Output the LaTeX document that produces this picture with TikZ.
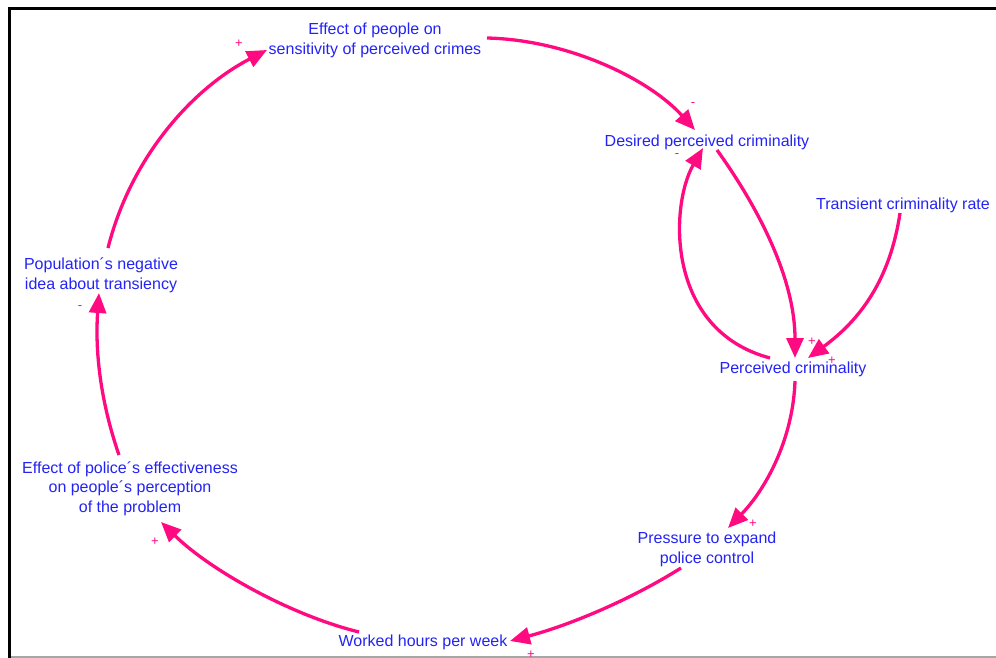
\documentclass[tikz,border=0pt]{standalone}
\usepackage{fontspec}
\setmainfont{Liberation Sans}
\usetikzlibrary{calc,arrows.meta}

\definecolor{linkpink}{RGB}{255,10,128}
\definecolor{varblue}{RGB}{35,35,245}

\tikzset{
  var/.style={inner sep=0pt, align=center, text=varblue,
    font=\fontsize{16}{19.5}\selectfont},
  link/.style={draw=linkpink, line width=3.3pt,
    -{Triangle[length=20pt,width=17pt]}},
  sign/.style={inner sep=0pt, text=linkpink,
    font=\fontsize{13}{14}\selectfont}
}

\begin{document}
\begin{tikzpicture}[x=1pt,y=-1pt]
\useasboundingbox (0,0) rectangle (996,658);

% frame
\draw[gray!70, line width=1.2pt] (9.5,657) -- (996,657);
\draw[black, line width=2.6pt] (996,8.5) -- (9.5,8.5) -- (9.5,658);

% variables
\node[var] (ep)  at (375,40.6)  {Effect of people on\\sensitivity of perceived crimes};
\node[var] (dpc) at (707,142.8) {Desired perceived criminality};
\node[var] (tcr) at (903,205.8) {Transient criminality rate};
\node[var] (pc)  at (793,369)   {Perceived criminality};
\node[var] (ptc) at (707,549.4) {Pressure to expand\\police control};
\node[var] (whw) at (423,642.5) {Worked hours per week};
\node[var] (epe) at (130,488.3) {Effect of police´s effectiveness\\on people´s perception\\of the problem};
\node[var] (pop) at (101,275.4) {Population´s negative\\idea about transiency};

% causal links
\draw[link] ($(ep.center)+(112,-2.6)$) .. controls (570,40) and (650,80) .. ($(dpc.center)+(-12,-12.8)$);
\draw[link] ($(dpc.center)+(10,7.2)$) .. controls (760,210) and (795,280) .. ($(pc.center)+(2,-11)$);
\draw[link] ($(pc.center)+(-23,-11)$) .. controls (665,330) and (670,205) .. ($(dpc.center)+(-4,5.2)$);
\draw[link] ($(tcr.center)+(-3,7.2)$) .. controls (890,280) and (860,320) .. ($(pc.center)+(15,-11)$);
\draw[link] ($(pc.center)+(2,12)$) .. controls (793,440) and (765,490) .. ($(ptc.center)+(21,-21.4)$);
\draw[link] ($(ptc.center)+(-26,18.6)$) .. controls (630,600) and (570,625) .. ($(whw.center)+(87,-1.5)$);
\draw[link] ($(whw.center)+(-64,-10.5)$) .. controls (290,615) and (210,570) .. ($(epe.center)+(31,33.7)$);
\draw[link] ($(epe.center)+(-11,-33.3)$) .. controls (100,400) and (95,350) .. ($(pop.center)+(-2,17.6)$);
\draw[link] ($(pop.center)+(7,-27.4)$) .. controls (130,160) and (190,90) .. ($(ep.center)+(-108,9.4)$);

% polarity signs
\node[sign] (s1) at (693,105) {-};
\node[sign] (s2) at (677,156) {-};
\node[sign] (s3) at (812,342) {+};
\node[sign] (s4) at (832,361) {+};
\node[sign] (s5) at (753,524) {+};
\node[sign] (s6) at (531,655) {+};
\node[sign] (s7) at (155,542) {+};
\node[sign] (s8) at (80,308) {-};
\node[sign] (s9) at (239,44) {+};
\end{tikzpicture}
\end{document}
